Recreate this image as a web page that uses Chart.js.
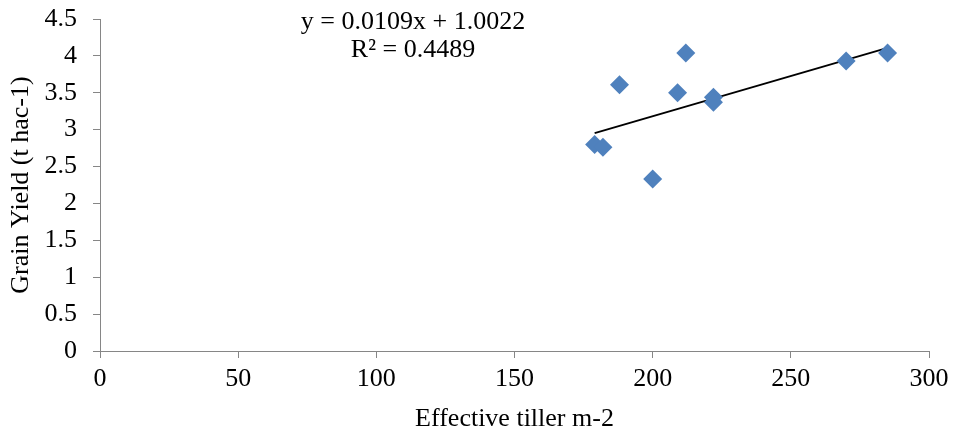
<!DOCTYPE html>
<html>
<head>
<meta charset="utf-8">
<script src="https://cdn.jsdelivr.net/npm/chart.js@4"></script>
<style>
  html, body { margin: 0; padding: 0; background: #fff; }
  #wrap { width: 954px; height: 435px; }
</style>
</head>
<body>
<div id="wrap"><canvas id="chart"></canvas></div>
<script>
// values
const tillers = [179, 182, 188, 200, 209, 212, 222, 222, 270, 285]
const yields = [2.80, 2.76, 3.61, 2.33, 3.50, 4.04, 3.44, 3.37, 3.93, 4.04]
const xTicks = [0, 50, 100, 150, 200, 250, 300]
const yTicks = [0, 0.5, 1, 1.5, 2, 2.5, 3, 3.5, 4, 4.5]
const slope = 0.0109
const intercept = 1.0022
const rSquared = 0.4489

const points = tillers.map((x, i) => ({x: x, y: yields[i]}))
const xMin = Math.min(...tillers)
const xMax = Math.max(...tillers)
const trend = [
    {x: xMin, y: slope * xMin + intercept},
    {x: xMax, y: slope * xMax + intercept}
]

const serif = "'Liberation Serif', 'Times New Roman', serif"
const axisColor = '#868686'
const fontSize = 26

// equation label, drawn like excel does it
const eqLabel = {
    id: 'eqLabel',
    afterDraw(chart) {
        const ctx = chart.ctx
        ctx.save()
        ctx.font = `${fontSize}px ${serif}`
        ctx.fillStyle = '#000'
        ctx.textAlign = 'center'
        ctx.textBaseline = 'alphabetic'
        ctx.fillText(`y = ${slope}x + ${intercept}`, 413, 29)
        ctx.fillText(`R\u00b2 = ${rSquared}`, 413, 57)
        ctx.restore()
    }
}

const ctx = document.getElementById('chart').getContext('2d')
new Chart(ctx, {
    type: 'scatter',
    data: {
        datasets: [{
            label: 'Grain Yield',
            data: points,
            pointStyle: 'rectRot',
            pointRadius: 9.5,
            pointHoverRadius: 9.5,
            backgroundColor: '#4F81BD',
            borderColor: '#4F81BD',
            borderWidth: 0
        }, {
            label: 'Linear',
            type: 'line',
            data: trend,
            borderColor: '#000',
            borderWidth: 1.8,
            pointRadius: 0,
            fill: false
        }]
    },
    options: {
        responsive: true,
        maintainAspectRatio: false,
        animation: false,
        layout: {padding: {top: 19, right: 25, left: 0, bottom: 0}},
        plugins: {
            legend: {display: false},
            tooltip: {enabled: false}
        },
        scales: {
            x: {
                type: 'linear',
                min: 0,
                max: 300,
                afterBuildTicks: s => { s.ticks = xTicks.map(v => ({value: v})) },
                afterFit: s => { s.height = 84; s.paddingLeft = 0; s.paddingRight = 0 },
                grid: {drawOnChartArea: false, color: axisColor, tickLength: 7, tickColor: axisColor},
                border: {color: axisColor, width: 1},
                ticks: {color: '#000', font: {family: serif, size: fontSize}, padding: 6, maxRotation: 0},
                title: {display: true, text: 'Effective tiller m-2', color: '#000',
                    font: {family: serif, size: fontSize}, padding: {top: 0, bottom: 0}}
            },
            y: {
                type: 'linear',
                min: 0,
                max: 4.5,
                afterBuildTicks: s => { s.ticks = yTicks.map(v => ({value: v})) },
                afterFit: s => { s.width = 100; s.paddingTop = 0; s.paddingBottom = 0 },
                grid: {drawOnChartArea: false, color: axisColor, tickLength: 7, tickColor: axisColor},
                border: {color: axisColor, width: 1},
                ticks: {color: '#000', font: {family: serif, size: fontSize}, padding: 16,
                    callback: v => String(v)},
                title: {display: true, text: 'Grain Yield (t hac-1)', color: '#000',
                    font: {family: serif, size: fontSize}, padding: {top: 6, bottom: 0}}
            }
        }
    },
    plugins: [eqLabel]
})
</script>
</body>
</html>
